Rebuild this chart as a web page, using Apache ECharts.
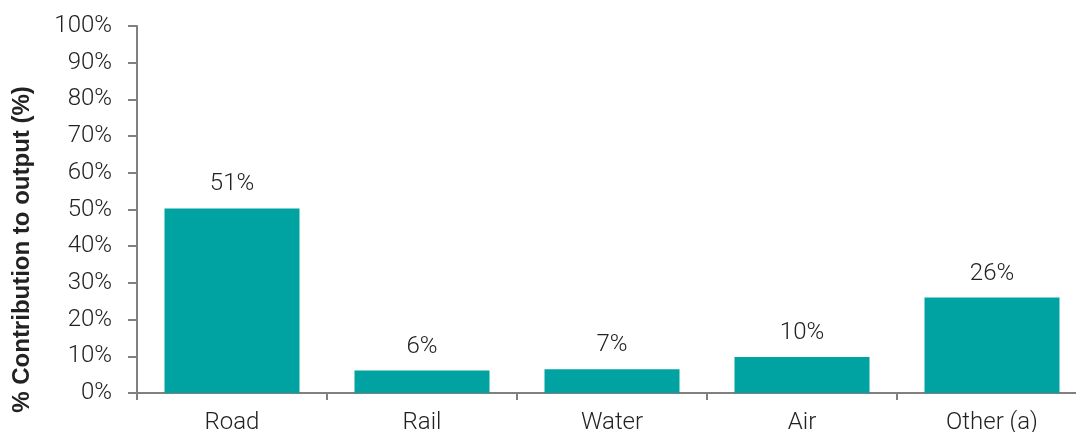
<!DOCTYPE html>
<html>
<head>
<meta charset="utf-8">
<script src="https://cdn.jsdelivr.net/npm/echarts@6/dist/echarts.min.js"></script>
<style>html,body{margin:0;padding:0;background:#fff;overflow:hidden;width:1076px;height:432px}#c{width:1100px;height:432px}</style>
</head>
<body>
<div id="c"></div>
<script>
var categories = ['Road', 'Rail', 'Water', 'Air', 'Other (a)'];
var values = [50.3, 6.1, 6.5, 9.8, 26.0];
var valueLabels = ['51%', '6%', '7%', '10%', '26%'];
var yTicks = [0, 10, 20, 30, 40, 50, 60, 70, 80, 90, 100];

var FONT = 'Roboto, "Liberation Sans", Arial, sans-serif';
var BOLD = '"Liberation Sans", Arial, sans-serif';
var chart = echarts.init(document.getElementById('c'), null, {renderer: 'canvas'});
chart.setOption({
  animation: false,
  grid: {left: 137, right: 13, top: 26, bottom: 39, containLabel: false, outerBoundsMode: 'none'},
  xAxis: {
    type: 'category',
    data: categories,
    axisLine: {lineStyle: {color: '#808080', width: 2}},
    axisTick: {show: true, length: 7, lineStyle: {color: '#808080', width: 2}},
    axisLabel: {color: '#222', fontSize: 24, fontWeight: 300, fontFamily: FONT, margin: 18}
  },
  yAxis: {
    type: 'value',
    min: yTicks[0],
    max: yTicks[yTicks.length - 1],
    interval: 10,
    name: '% Contribution to output (%)',
    nameLocation: 'middle',
    nameGap: 103,
    nameTextStyle: {color: '#222', fontSize: 24, fontWeight: 'bold', fontFamily: BOLD, padding: [0, 80, 0, 0]},
    axisLine: {show: true, lineStyle: {color: '#808080', width: 2}},
    axisTick: {show: true, length: 9, lineStyle: {color: '#808080', width: 2}},
    splitLine: {show: false},
    axisLabel: {color: '#222', fontSize: 24, fontWeight: 300, fontFamily: FONT, margin: 25, formatter: '{value}%'}
  },
  series: [{
    type: 'bar',
    data: values,
    barWidth: 135,
    itemStyle: {color: '#00A3A1'},
    label: {
      show: true,
      position: 'top',
      distance: 12,
      color: '#222',
      fontSize: 24,
      fontWeight: 300,
      fontFamily: FONT,
      formatter: function (p) { return valueLabels[p.dataIndex]; }
    }
  }]
});
</script>
</body>
</html>
